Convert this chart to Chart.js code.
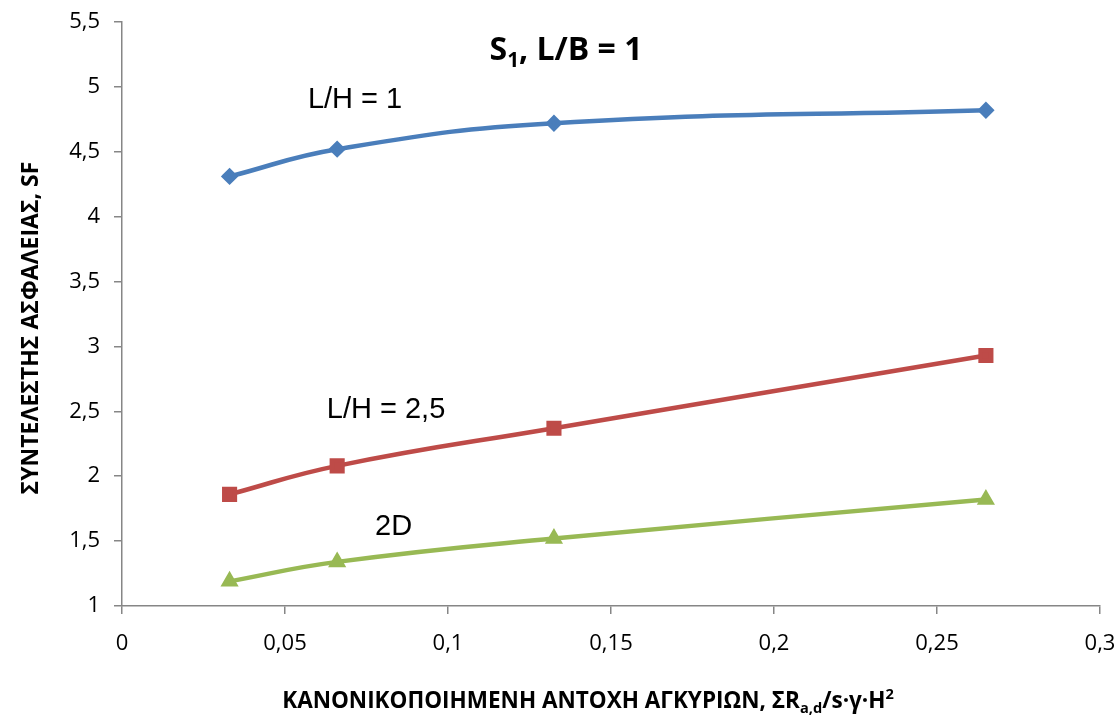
<!DOCTYPE html>
<html>
<head>
<meta charset="utf-8">
<script src="https://cdn.jsdelivr.net/npm/chart.js@4/dist/chart.umd.min.js"></script>
<style>
html,body{margin:0;padding:0;background:#fff}
#wrap{width:1117px;height:720px}
</style>
</head>
<body>
<div id="wrap"><canvas id="grafico" width="1117" height="720"></canvas></div>
<script>
// anchor resistance (normalised) on x, safety factor on y
let xAntoxi=[0.033,0.066,0.1325,0.265]
let sfLH1=[4.31,4.52,4.72,4.82]
let sfLH25=[1.86,2.08,2.37,2.93]
let sf2D=[1.19,1.34,1.52,1.82]

let etiketes=['L/H = 1','L/H = 2,5','2D']
let xEtiketes=[0.0715,0.081,0.0833]
let yEtiketes=[4.9,2.51,1.61]

let gkri='#868686'
let grammatoseira='"Open Sans", sans-serif'

function zeugi(ys){
return xAntoxi.map((x,i)=>({x:x,y:ys[i]}))
}

function komma(v){
return Number(v.toFixed(2)).toString().replace('.',',')
}

// text with optional sub/superscript pieces, drawn left to right
function keimeno(ctx,parts,x,y,size,font,align){
let w=0
parts.forEach(p=>{
let s=p.s?size*0.65:size
ctx.font=`bold ${s}px ${font}`
w+=ctx.measureText(p.t).width
})
let cx=align==='center'?x-w/2:x
parts.forEach(p=>{
let s=p.s?size*0.65:size
ctx.font=`bold ${s}px ${font}`
let dy=p.s==='sub'?size*0.3:(p.s==='sup'?-size*0.3:0)
ctx.fillText(p.t,cx,y+dy)
cx+=ctx.measureText(p.t).width
})
}

const titloi={
id:'titloi',
afterDraw(chart){
let ctx=chart.ctx
let xs=chart.scales.x
let ys=chart.scales.y
ctx.save()
ctx.fillStyle='#000'
ctx.textBaseline='middle'
ctx.textAlign='left'

keimeno(ctx,[{t:'S'},{t:'1',s:'sub'},{t:', L/B = 1'}],566,51,32,grammatoseira,'center')

keimeno(ctx,[{t:'ΚΑΝΟΝΙΚΟΠΟΙΗΜΕΝΗ ΑΝΤΟΧΗ ΑΓΚΥΡΙΩΝ, ΣR'},{t:'a,d',s:'sub'},{t:'/s·γ·H'},{t:'2',s:'sup'}],588,702,22.5,grammatoseira,'center')

ctx.translate(31,328)
ctx.rotate(-Math.PI/2)
keimeno(ctx,[{t:'ΣΥΝΤΕΛΕΣΤΗΣ ΑΣΦΑΛΕΙΑΣ, SF'}],0,0,23,grammatoseira,'center')
ctx.setTransform(1,0,0,1,0,0)

ctx.font='29px "Liberation Sans", Arial, sans-serif'
ctx.textAlign='center'
etiketes.forEach((t,i)=>{
ctx.fillText(t,xs.getPixelForValue(xEtiketes[i]),ys.getPixelForValue(yEtiketes[i]))
})
ctx.restore()
}
}

let grammi=(ys,xroma,stil,r)=>({
data:zeugi(ys),
showLine:true,
borderColor:xroma,
backgroundColor:xroma,
borderWidth:4.5,
pointStyle:stil,
pointRadius:r,
pointHoverRadius:r,
tension:0.45,
clip:false
})

new Chart(document.getElementById('grafico'),{
type:'scatter',
data:{
datasets:[
grammi(sfLH1,'#4a7ebb','rectRot',5.5),
grammi(sfLH25,'#be4b48','rect',7.5),
grammi(sf2D,'#98b954','triangle',6)
]
},
options:{
responsive:false,
animation:false,
devicePixelRatio:1,
layout:{padding:{left:0,top:22,right:17,bottom:0}},
plugins:{legend:{display:false},tooltip:{enabled:false}},
scales:{
x:{
type:'linear',
min:0,max:0.3,
afterFit:s=>{s.height=114;s.paddingLeft=0;s.paddingRight=0},
ticks:{stepSize:0.05,color:'#000',padding:17,font:{size:22,family:grammatoseira},callback:v=>komma(v)},
grid:{drawOnChartArea:false,drawTicks:true,tickLength:8,color:gkri,lineWidth:1.5},
border:{color:gkri,width:1.5}
},
y:{
type:'linear',
min:1,max:5.5,
afterFit:s=>{s.width=122;s.paddingTop=0;s.paddingBottom=0},
ticks:{stepSize:0.5,color:'#000',padding:14,font:{size:22,family:grammatoseira},callback:v=>komma(v)},
grid:{drawOnChartArea:false,drawTicks:true,tickLength:8,color:gkri,lineWidth:1.5},
border:{color:gkri,width:1.5}
}
}
},
plugins:[titloi]
})
</script>
</body>
</html>
